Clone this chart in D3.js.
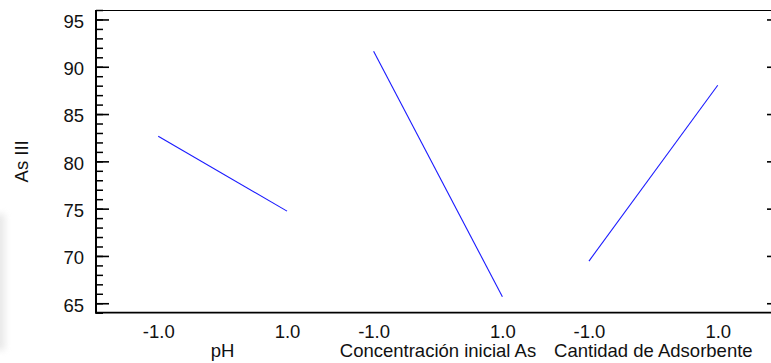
<!DOCTYPE html>
<html>
<head>
<meta charset="utf-8">
<script src="https://cdn.jsdelivr.net/npm/d3@7"></script>
<style>
  body { margin: 0; background: #fff; }
  svg { display: block; }
  text { font-family: "Liberation Sans", Arial, sans-serif; fill: #111; }
</style>
</head>
<body>
<svg id="chart" width="771" height="363"></svg>
<script>
// Main effects for As III: mean response at the low (-1) and high (+1) level of each factor
const factors = ["pH", "Concentración inicial As", "Cantidad de Adsorbente"];
const levels = [-1, 1];
const lowValues = [82.66, 91.64, 69.46];
const highValues = [74.74, 65.69, 88.05];
const levelLabels = ["-1.0", "1.0"];
const yMajorTicks = [65, 70, 75, 80, 85, 90, 95];
const yMinorTicks = d3.range(64, 97, 1);
const yTitle = "As III";

const svg = d3.select("#chart");
const plotLeft = 96, plotRight = 780, plotTop = 10, plotBottom = 312.7;
const fontSize = 18.5;

// faint smudge along the left edge of the page
const defs = svg.append("defs");
defs.append("filter").attr("id", "soft")
  .attr("x", "-100%").attr("y", "-20%").attr("width", "300%").attr("height", "140%")
  .append("feGaussianBlur").attr("stdDeviation", 3);
svg.append("rect").attr("x", -8).attr("y", 214).attr("width", 13).attr("height", 136)
  .attr("fill", "#e2e2e2").attr("opacity", 0.75).attr("filter", "url(#soft)");

const y = d3.scaleLinear().domain([64, 96]).range([plotBottom, plotTop]);

const band = d3.scaleBand().domain(factors).range([plotLeft, plotRight])
  .paddingInner(0.402).paddingOuter(0.289);

// frame: top border, left and bottom axis lines
svg.append("line").attr("x1", plotLeft).attr("x2", plotRight).attr("y1", plotTop + 0.5).attr("y2", plotTop + 0.5)
  .attr("stroke", "#000").attr("stroke-width", 1.2);
svg.append("line").attr("x1", plotLeft).attr("x2", plotLeft).attr("y1", plotTop).attr("y2", plotBottom + 1)
  .attr("stroke", "#000").attr("stroke-width", 2);
svg.append("line").attr("x1", plotLeft).attr("x2", plotRight).attr("y1", plotBottom).attr("y2", plotBottom)
  .attr("stroke", "#000").attr("stroke-width", 1.8);

// left axis: minor ticks every unit, major ticks every 5 with labels
const minorAxis = d3.axisLeft(y).tickValues(yMinorTicks).tickSizeInner(-7).tickSizeOuter(0).tickFormat("");
const gMinor = svg.append("g").attr("transform", `translate(${plotLeft},0)`).call(minorAxis);
gMinor.select(".domain").remove();
gMinor.selectAll(".tick line").attr("stroke", "#000").attr("stroke-width", 1.5);

const majorAxis = d3.axisLeft(y).tickValues(yMajorTicks).tickSizeInner(-13).tickSizeOuter(0)
  .tickPadding(12).tickFormat(d3.format("d"));
const gMajor = svg.append("g").attr("transform", `translate(${plotLeft},0)`).call(majorAxis);
gMajor.select(".domain").remove();
gMajor.selectAll(".tick line").attr("stroke", "#000").attr("stroke-width", 1.6);
gMajor.selectAll(".tick text").attr("font-size", fontSize).attr("fill", "#111")
  .attr("font-family", "Liberation Sans, Arial, sans-serif").attr("dy", "0.42em");

// right axis: major ticks only
const rightAxis = d3.axisRight(y).tickValues(yMajorTicks).tickSizeInner(-13).tickSizeOuter(0).tickFormat("");
const gRight = svg.append("g").attr("transform", `translate(${plotRight},0)`).call(rightAxis);
gRight.select(".domain").remove();
gRight.selectAll(".tick line").attr("stroke", "#000").attr("stroke-width", 1.6);

// one effect line per factor across its band
factors.forEach((f, i) => {
  const x = d3.scaleLinear().domain([-1, 1]).range([band(f), band(f) + band.bandwidth()]);

  const xAxis = d3.axisBottom(x).tickValues(levels).tickSize(0).tickPadding(12)
    .tickFormat((d, k) => levelLabels[k]);
  const gx = svg.append("g").attr("transform", `translate(0,${plotBottom})`).call(xAxis);
  gx.select(".domain").remove();
  gx.selectAll(".tick text").attr("font-size", fontSize).attr("fill", "#111")
    .attr("font-family", "Liberation Sans, Arial, sans-serif");

  svg.append("text")
    .attr("x", band(f) + band.bandwidth() / 2)
    .attr("y", 357)
    .attr("text-anchor", "middle")
    .attr("font-size", fontSize)
    .text(f);

  const pts = [[levels[0], lowValues[i]], [levels[1], highValues[i]]];
  svg.append("path")
    .datum(pts)
    .attr("fill", "none")
    .attr("stroke", "#1a1aff")
    .attr("stroke-width", 1.1)
    .attr("d", d3.line().x(d => x(d[0])).y(d => y(d[1])));
});

// y-axis title
svg.append("text")
  .attr("transform", `translate(28,${(plotTop + plotBottom) / 2}) rotate(-90)`)
  .attr("text-anchor", "middle")
  .attr("font-size", fontSize)
  .text(yTitle);
</script>
</body>
</html>
